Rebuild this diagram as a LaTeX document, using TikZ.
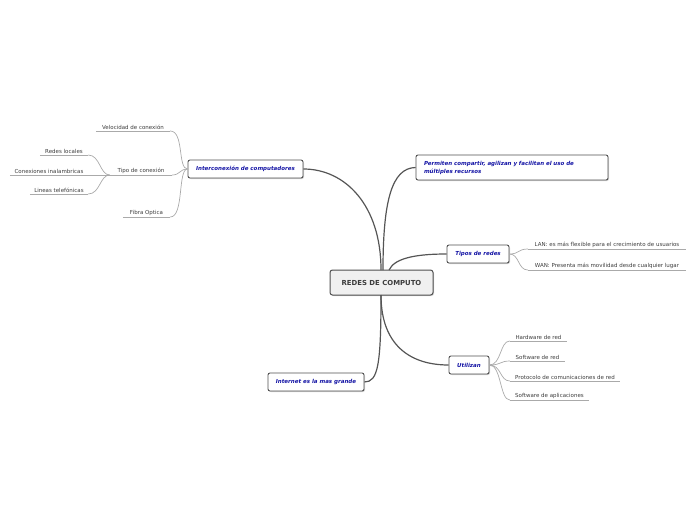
\documentclass[tikz,border=0pt]{standalone}
\usepackage{fontspec}
\setmainfont{DejaVu Sans}
\usetikzlibrary{shadows}
\definecolor{boxblue}{RGB}{20,20,165}
\definecolor{leaftext}{RGB}{60,60,60}
\definecolor{boxline}{RGB}{80,80,80}
\definecolor{mainline}{RGB}{85,85,85}
\definecolor{leafline}{RGB}{170,170,170}
\begin{document}
\begin{tikzpicture}[x=1pt,y=-1pt,
  topic/.style={draw=boxline, line width=0.9pt, rounded corners=2pt, fill=white,
    drop shadow={shadow xshift=1pt, shadow yshift=-1pt, opacity=0.35},
    font=\fontsize{5.5}{8}\selectfont\bfseries\itshape, text=boxblue, inner sep=0pt},
  central/.style={draw=boxline, line width=1pt, rounded corners=2.5pt, fill=gray!12,
    drop shadow={shadow xshift=1pt, shadow yshift=-1pt, opacity=0.35},
    font=\fontsize{6.9}{8}\selectfont\bfseries, text=leaftext, inner sep=0pt},
  leaf/.style={font=\fontsize{5.5}{6.5}\selectfont, text=leaftext, inner xsep=0pt, inner ysep=1.5pt, anchor=south},
  uline/.style={draw=leafline, line width=0.7pt},
  thin/.style={draw=leafline, line width=0.7pt},
  thick/.style={draw=mainline, line width=1.2pt},
]
\useasboundingbox (0,0) rectangle (696,520);

% central
\node[central, minimum width=103pt, minimum height=25pt] (root) at (381.5,282.5) {REDES DE COMPUTO};

% topics
\node[topic, minimum width=115pt, minimum height=18pt] (inter) at (245.5,169) {Interconexión de computadores};
\node[topic, minimum width=192pt, minimum height=25pt, align=left, text width=176pt, inner xsep=8pt] (perm) at (512,167.5) {Permiten compartir, agilizan y facilitan el uso de\\múltiples recursos};
\node[topic, minimum width=62pt, minimum height=18pt] (tipos) at (478,254) {Tipos de redes};
\node[topic, minimum width=40pt, minimum height=18pt] (util) at (469,365) {Utilizan};
\node[topic, minimum width=96pt, minimum height=18pt] (inet) at (316,382) {Internet es la mas grande};

% main connectors
\draw[thick] (381,270) .. controls (381,205) and (345,169) .. (inter.east);
\draw[thick] (383,270) .. controls (383,200) and (392,168) .. (perm.west);
\draw[thick] (389,270) .. controls (395,257) and (420,254) .. (tipos.west);
\draw[thick] (381,295) .. controls (381,345) and (410,365) .. (util.west);
\draw[thick] (381,295) .. controls (381,365) and (378,382) .. (inet.east);

% left leaves
\node[leaf, minimum width=74pt] (velo) at (133,131) {Velocidad de conexión};
\node[leaf, minimum width=62pt] (tipo) at (141,175) {Tipo de conexión};
\node[leaf, minimum width=47pt] (fibra) at (146.5,217) {Fibra Optica};
\node[leaf, minimum width=48pt] (rloc) at (64,155) {Redes locales};
\node[leaf, minimum width=78pt] (inal) at (49,175) {Conexiones inalambricas};
\node[leaf, minimum width=58pt] (tele) at (59,194) {Lineas telefónicas};

\foreach \n in {velo,tipo,fibra,rloc,inal,tele}
  \draw[uline] (\n.south west) -- (\n.south east);

\draw[thin] (velo.south east) .. controls +(14,0) and +(-10,0) .. (inter.west);
\draw[thin] (tipo.south east) .. controls +(8,0) and +(-8,0) .. (inter.west);
\draw[thin] (fibra.south east) .. controls +(14,0) and +(-10,0) .. (inter.west);
\draw[thin] (rloc.south east) .. controls +(12,0) and +(-10,0) .. (tipo.south west);
\draw[thin] (inal.south east) -- (tipo.south west);
\draw[thin] (tele.south east) .. controls +(12,0) and +(-10,0) .. (tipo.south west);

% right leaves
\node[leaf, minimum width=158pt] (lan) at (607,249) {LAN: es más flexible para el crecimiento de usuarios};
\node[leaf, minimum width=158pt] (wan) at (607,270) {WAN: Presenta más movilidad desde cualquier lugar};
\node[leaf, minimum width=57pt] (hw) at (538.5,341) {Hardware de red};
\node[leaf, minimum width=55pt] (sw) at (537.5,361) {Software de red};
\node[leaf, minimum width=110pt] (prot) at (565,381) {Protocolo de comunicaciones de red};
\node[leaf, minimum width=79pt] (swa) at (549.5,400) {Software de aplicaciones};

\foreach \n in {lan,wan,hw,sw,prot,swa}
  \draw[uline] (\n.south west) -- (\n.south east);

\draw[thin] (tipos.east) .. controls +(10,0) and +(-10,0) .. (lan.south west);
\draw[thin] (tipos.east) .. controls +(10,0) and +(-10,0) .. (wan.south west);
\draw[thin] (util.east) .. controls +(12,0) and +(-10,0) .. (hw.south west);
\draw[thin] (util.east) .. controls +(12,0) and +(-10,0) .. (sw.south west);
\draw[thin] (util.east) .. controls +(12,0) and +(-10,0) .. (prot.south west);
\draw[thin] (util.east) .. controls +(12,0) and +(-10,0) .. (swa.south west);
\end{tikzpicture}
\end{document}
